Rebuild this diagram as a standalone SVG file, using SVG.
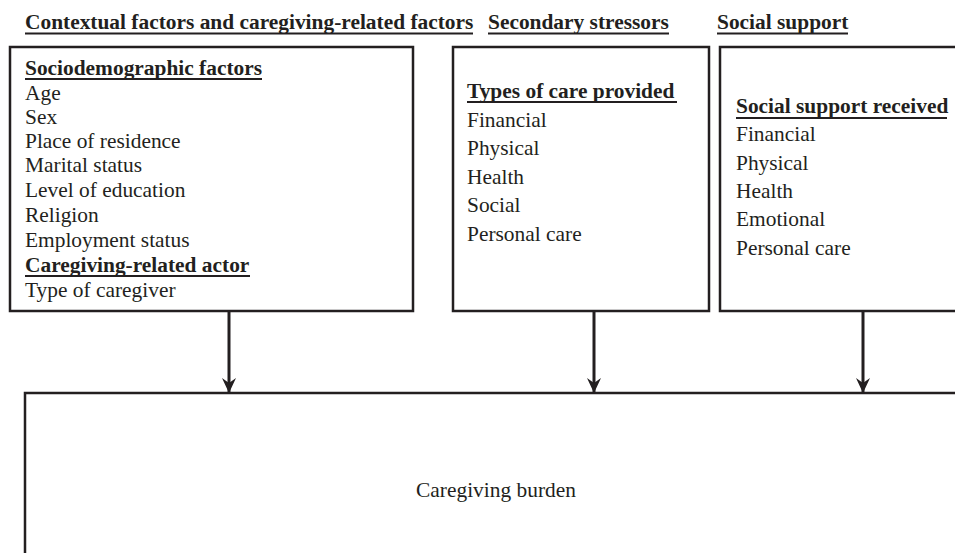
<svg xmlns="http://www.w3.org/2000/svg" width="955" height="553" viewBox="0 0 955 553">
<style>
text{font-family:"Liberation Serif","Times New Roman",serif;font-size:21.4px;fill:#231f20}
.b{font-weight:bold}
.box{fill:#fff;stroke:#231f20;stroke-width:2.5}
.ul{stroke:#231f20;stroke-width:2}
.conn{stroke:#231f20;stroke-width:3;fill:none}
</style>
<defs>
<marker id="ah" viewBox="0 0 16 14" refX="15" refY="7" markerWidth="16" markerHeight="14" markerUnits="userSpaceOnUse" orient="auto">
<path d="M1,0 L6,7 L1,14 L16,7 Z" fill="#231f20"/>
</marker>
</defs>
<rect width="955" height="553" fill="#fff"/>
<g id="headers">
<text class="b" x="25" y="29">Contextual factors and caregiving-related factors</text>
<line class="ul" x1="25" y1="33.5" x2="473" y2="33.5"/>
<text class="b" x="488" y="29">Secondary stressors</text>
<line class="ul" x1="488" y1="33.5" x2="669" y2="33.5"/>
<text class="b" x="717" y="29">Social support</text>
<line class="ul" x1="717" y1="33.5" x2="848" y2="33.5"/>
</g>
<g id="contextual">
<rect class="box" x="10" y="47" width="403" height="264"/>
<text class="b" x="25" y="75">Sociodemographic factors</text>
<line class="ul" x1="25" y1="79" x2="262" y2="79"/>
<text x="25" y="100">Age</text>
<text x="25" y="124">Sex</text>
<text x="25" y="148">Place of residence</text>
<text x="25" y="172">Marital status</text>
<text x="25" y="197">Level of education</text>
<text x="25" y="222">Religion</text>
<text x="25" y="247">Employment status</text>
<text class="b" x="25" y="272">Caregiving-related actor</text>
<line class="ul" x1="25" y1="276" x2="250" y2="276"/>
<text x="25" y="297">Type of caregiver</text>
</g>
<g id="secondary">
<rect class="box" x="453" y="47" width="256" height="264"/>
<text class="b" x="467" y="98">Types of care provided</text>
<line class="ul" x1="467" y1="102" x2="677" y2="102"/>
<text x="467" y="127">Financial</text>
<text x="467" y="155">Physical</text>
<text x="467" y="184">Health</text>
<text x="467" y="212">Social</text>
<text x="467" y="241">Personal care</text>
</g>
<g id="social">
<rect class="box" x="720" y="47" width="250" height="264"/>
<text class="b" x="736" y="113">Social support received</text>
<line class="ul" x1="736" y1="118" x2="947" y2="118"/>
<text x="736" y="141">Financial</text>
<text x="736" y="170">Physical</text>
<text x="736" y="198">Health</text>
<text x="736" y="226">Emotional</text>
<text x="736" y="255">Personal care</text>
</g>
<g id="burden">
<rect class="box" x="25" y="393" width="950" height="200"/>
<text x="496" y="497" text-anchor="middle">Caregiving burden</text>
</g>
<g id="connectors">
<line class="conn" x1="229" y1="312" x2="229" y2="392" marker-end="url(#ah)"/>
<line class="conn" x1="594" y1="312" x2="594" y2="392" marker-end="url(#ah)"/>
<line class="conn" x1="863" y1="312" x2="863" y2="392" marker-end="url(#ah)"/>
</g>
</svg>
